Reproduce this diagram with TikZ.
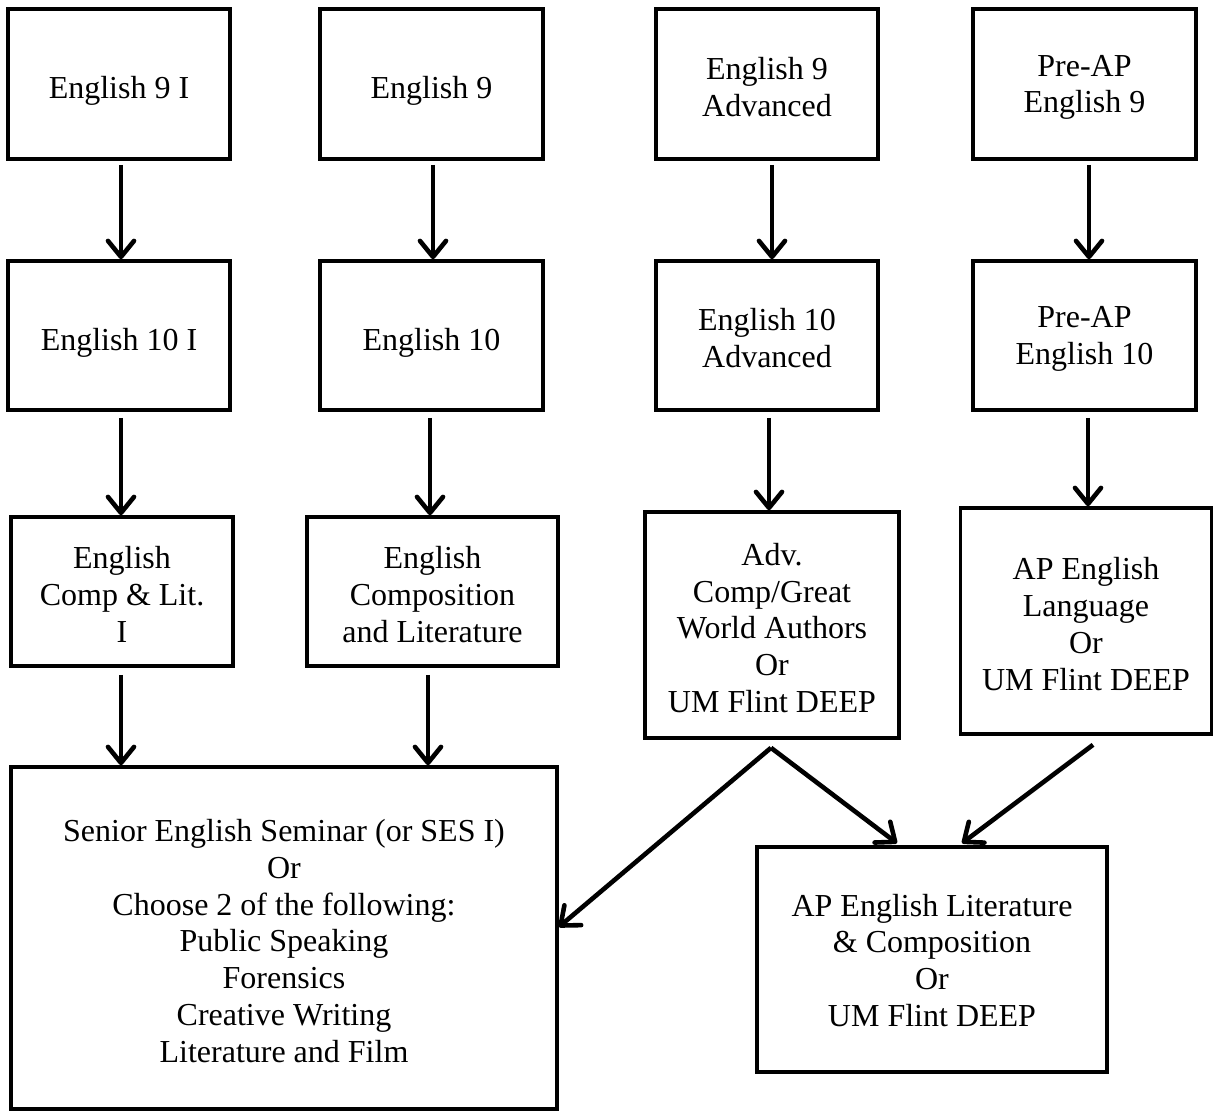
\documentclass[tikz,border=0pt]{standalone}
\usepackage{fontspec}
\setmainfont{Liberation Serif}
\usetikzlibrary{arrows.meta}
\newcommand\sglgap{\rule{0pt}{36pt}}
\newcommand\mltgap{\rule{0pt}{28pt}}
\tikzset{
  box/.style={draw=black, line width=3.6pt, rectangle, inner sep=0pt, align=center,
    font=\fontsize{32}{36.8}\selectfont, fill=white},
  arr/.style={line width=4.6pt, -{Straight Barb[length=16pt,width=26pt,line join=round,line cap=round]}}
}
\begin{document}
\begin{tikzpicture}[x=1pt,y=-1pt]
\useasboundingbox (0,0) rectangle (1214,1111);
% row 1
\node[box, minimum width=222pt, minimum height=150pt] (r1a) at (119,84) {\sglgap English 9 I};
\node[box, minimum width=223pt, minimum height=150pt] (r1b) at (431.5,84) {\sglgap English 9};
\node[box, minimum width=222pt, minimum height=150pt] (r1c) at (767,84) {\mltgap English 9\\Advanced};
\node[box, minimum width=223pt, minimum height=150pt] (r1d) at (1084.5,84) {\mltgap Pre-AP\\English 9};
% row 2
\node[box, minimum width=222pt, minimum height=149pt] (r2a) at (119,335.5) {\sglgap English 10 I};
\node[box, minimum width=223pt, minimum height=149pt] (r2b) at (431.5,335.5) {\sglgap English 10};
\node[box, minimum width=222pt, minimum height=149pt] (r2c) at (767,335.5) {\mltgap English 10\\Advanced};
\node[box, minimum width=223pt, minimum height=149pt] (r2d) at (1084.5,335.5) {\mltgap Pre-AP\\English 10};
% row 3
\node[box, minimum width=222pt, minimum height=149pt] (r3a) at (122,591.5) {\mltgap English\\Comp \& Lit.\\I};
\node[box, minimum width=251pt, minimum height=149pt] (r3b) at (432.5,591.5) {\mltgap English\\Composition\\and Literature};
\node[box, minimum width=254pt, minimum height=226pt] (r3c) at (772,625) {\mltgap Adv.\\Comp/Great\\World Authors\\Or\\UM Flint DEEP};
\node[box, minimum width=251pt, minimum height=226pt] (r3d) at (1086,621) {\mltgap AP English\\Language\\Or\\UM Flint DEEP};
% bottom
\node[box, minimum width=546pt, minimum height=342pt] (sen) at (284,938) {\mltgap Senior English Seminar (or SES I)\\Or\\Choose 2 of the following:\\Public Speaking\\Forensics\\Creative Writing\\Literature and Film};
\node[box, minimum width=350pt, minimum height=225pt] (aplit) at (932,959.5) {\rule{0pt}{24pt}AP English Literature\\\& Composition\\Or\\UM Flint DEEP};
% arrows row1 -> row2
\draw[arr] ([xshift=2pt,yshift=-4pt]r1a.south) -- ([xshift=2pt]r2a.north);
\draw[arr] ([xshift=1.5pt,yshift=-4pt]r1b.south) -- ([xshift=1.5pt]r2b.north);
\draw[arr] ([xshift=5pt,yshift=-4pt]r1c.south) -- ([xshift=5pt]r2c.north);
\draw[arr] ([xshift=4.5pt,yshift=-4pt]r1d.south) -- ([xshift=4.5pt]r2d.north);
% arrows row2 -> row3
\draw[arr] ([xshift=2pt,yshift=-6pt]r2a.south) -- ([xshift=2pt]r2a.south |- r3a.north);
\draw[arr] ([xshift=-1.5pt,yshift=-6pt]r2b.south) -- ([xshift=-1.5pt]r2b.south |- r3b.north);
\draw[arr] ([xshift=2pt,yshift=-6pt]r2c.south) -- ([xshift=2pt]r2c.south |- r3c.north);
\draw[arr] ([xshift=3.5pt,yshift=-6pt]r2d.south) -- ([xshift=3.5pt]r2d.south |- r3d.north);
% arrows row3 -> senior
\draw[arr] ([xshift=-1pt,yshift=-7pt]r3a.south) -- ([xshift=-1pt]r3a.south |- sen.north);
\draw[arr] ([xshift=-4.5pt,yshift=-7pt]r3b.south) -- ([xshift=-4.5pt]r3b.south |- sen.north);
% V and diagonal arrows
\coordinate (apex) at ([xshift=-1pt,yshift=-8pt]r3c.south);
\coordinate (langout) at ([xshift=7pt,yshift=-9pt]r3d.south);
\draw[arr] (apex) -- ([xshift=0pt,yshift=11pt]sen.east);
\draw[arr] (apex) -- ([xshift=-35pt,yshift=2pt]aplit.north);
\draw[arr] (langout) -- ([xshift=30pt,yshift=2pt]aplit.north);
\end{tikzpicture}
\end{document}
